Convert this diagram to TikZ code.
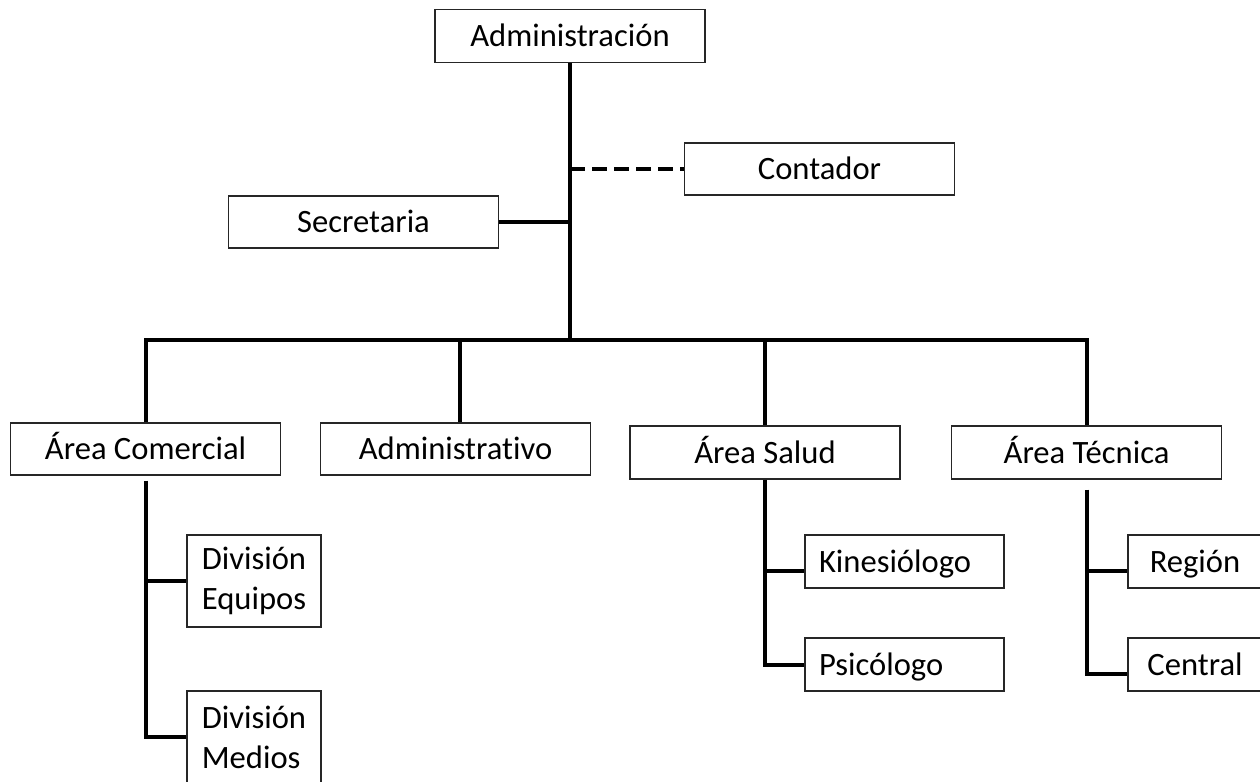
\documentclass[tikz,border=0pt]{standalone}
\usepackage{fontspec}
\setmainfont[Ligatures=NoCommon]{Carlito}
\begin{document}
\begin{tikzpicture}[x=0.5pt,y=-0.5pt] % organigrama
\tikzstyle{caja} = [draw=black!85, line width=0.6pt, rectangle, minimum height=26pt, inner sep=0pt, font=\fontsize{16.3}{20}\selectfont] % estilo de caja
\tikzstyle{linea1} = [text height=10.5pt, text depth=0pt] % una sola linea
\tikzstyle{ancha} = [caja, linea1, minimum width=135pt] % caja ancha
\tikzstyle{chica} = [caja, minimum width=67pt, align=left] % caja angosta
\tikzstyle{media} = [caja, linea1, inner xsep=7pt, text width=85.5pt, align=left] % caja media
\tikzstyle{linea} = [line width=2pt] % conector
\tikzstyle{punteada} = [linea, dash pattern=on 7.5pt off 3.5pt] % conector punteado

\useasboundingbox (0,0) rectangle (1260,782);

\node[ancha, minimum height=26.5pt] (adm) at (570,36) {Administración};
\node[ancha] (cont) at (819.5,169) {Contador};
\node[ancha] (sec) at (363.5,222) {Secretaria};

\node[ancha] (com) at (145.5,449) {Área Comercial};
\node[ancha] (admv) at (455.5,449) {Administrativo};
\node[ancha, minimum height=26.5pt] (sal) at (765,452.5) {Área Salud};
\node[ancha, minimum height=26.5pt] (tec) at (1086.5,452.5) {Área Técnica};

\node[chica, minimum height=46pt] (equ) at (254,581) {División\\Equipos};
\node[chica, minimum height=46pt] (med) at (254,737) {División\\Medios};
\node[media, minimum height=26.5pt] (kin) at (904.5,561.5) {Kinesiólogo};
\node[media, minimum height=26.5pt] (psi) at (904.5,664.5) {Psicólogo};
\node[chica, linea1, minimum height=26.5pt] (reg) at (1195,561.5) {Región};
\node[chica, linea1, minimum height=26.5pt] (cen) at (1195,664.5) {Central};

\coordinate (bar) at (570,340); % barra horizontal
\coordinate (admx) at ([xshift=2.25pt]admv.north); % puntos de union
\coordinate (kinx) at ([yshift=-4.5pt]kin.west);
\coordinate (regx) at ([yshift=-4.5pt]reg.west);
\coordinate (cenx) at ([yshift=-4.5pt]cen.west);

\draw[linea] (adm.south) -- (bar);
\draw[punteada] (adm.south |- cont.west) -- (cont.west);
\draw[linea] (sec.east) -- (adm.south |- sec.east);
\draw[linea] (com.north) -- (com.north |- bar) -- (tec.north |- bar) -- (tec.north);
\draw[linea] (admx |- bar) -- (admx);
\draw[linea] (sal.north |- bar) -- (sal.north);

\draw[linea] ([yshift=-2.5pt]com.south) -- (com.south |- med.west) -- (med.west);
\draw[linea] (com.south |- equ.west) -- (equ.west);
\draw[linea] (sal.south) -- (sal.south |- psi.west) -- (psi.west);
\draw[linea] (sal.south |- kinx) -- (kinx);
\draw[linea] ([yshift=-5pt]tec.south) -- (tec.south |- cenx) -- (cenx);
\draw[linea] (tec.south |- regx) -- (regx);
\end{tikzpicture}
\end{document}
